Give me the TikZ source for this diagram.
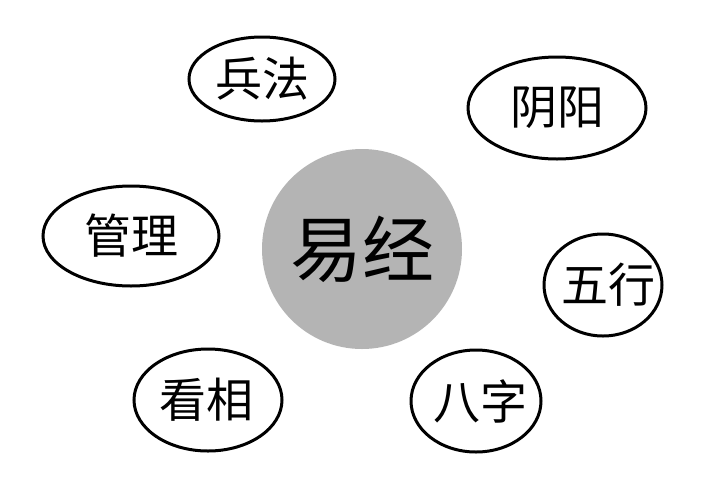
\documentclass[tikz,border=0pt]{standalone}
\usepackage{fontspec}
\usetikzlibrary{shapes.geometric}
\newfontfamily\cjk{Noto Sans CJK SC}
\definecolor{coregray}{RGB}{180,180,180}
\begin{document}
\begin{tikzpicture}[x=1pt,y=-1pt,
  topic/.style={draw=black, line width=3pt, ellipse, inner sep=0pt},
  lbl/.style={font=\cjk\fontsize{47}{47}\selectfont, inner sep=0pt},
  core/.style={circle, fill=coregray, minimum size=200pt, inner sep=0pt, font=\cjk\fontsize{72}{72}\selectfont}]
\useasboundingbox (0,0) rectangle (720,480);
\fill[white] (0,0) rectangle (720,480);
\node[core] (yj) at (362,249) {易经};
\node[topic, minimum width=146pt, minimum height=84pt] (bfe) at (262,79) {};
\node[lbl] (bf) at (262,79) {兵法};
\node[topic, minimum width=178pt, minimum height=102pt] (yye) at (557,108) {};
\node[lbl] (yy) at (557,108) {阴阳};
\node[topic, minimum width=176pt, minimum height=100pt] (gle) at (131,236) {};
\node[lbl] (gl) at (131,236) {管理};
\node[topic, minimum width=118pt, minimum height=102pt] (wxe) at (603,285) {};
\node[lbl] (wx) at (608,285) {五行};
\node[topic, minimum width=148pt, minimum height=102pt] (kxe) at (208,400) {};
\node[lbl] (kx) at (206,400) {看相};
\node[topic, minimum width=130pt, minimum height=102pt] (bze) at (476,401) {};
\node[lbl] (bz) at (480,401) {八字};
\end{tikzpicture}
\end{document}
